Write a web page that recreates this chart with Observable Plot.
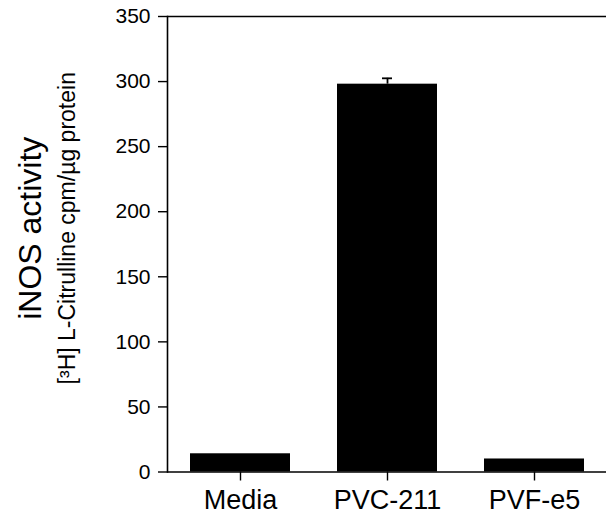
<!DOCTYPE html>
<html>
<head>
<meta charset="utf-8">
<script src="https://cdn.jsdelivr.net/npm/d3@7"></script>
<script src="https://cdn.jsdelivr.net/npm/@observablehq/plot@0.6"></script>
<style>
  html, body { margin: 0; padding: 0; background: #fff; }
  #chart svg { display: block; }
</style>
</head>
<body>
<div id="chart"></div>
<script>
const categories = ["Media", "PVC-211", "PVF-e5"];
const values = [14, 298, 10];
const errors = [0, 4.5, 0];
const yTicks = [0, 50, 100, 150, 200, 250, 300, 350];
const yTitle = "iNOS activity";
const ySubtitle = "[³H] L-Citrulline cpm/µg protein";

const data = categories.map((c, i) => ({cat: c, v: values[i], hi: values[i] + errors[i], err: errors[i]}));
const errData = data.filter(d => d.err > 0);

const W = 606, H = 518;
const font = "'Liberation Sans', Arial, Helvetica, sans-serif";

const chart = Plot.plot({
  width: W,
  height: H,
  marginLeft: 167,
  marginRight: 0,
  marginTop: 16,
  marginBottom: 46.5,
  style: {fontFamily: font, background: "#fff", color: "#000", overflow: "visible"},
  x: {domain: categories, paddingInner: 0.32, paddingOuter: 0.15, label: null},
  y: {domain: [0, 350], label: null},
  marks: [
    Plot.barY(data, {x: "cat", y: "v", fill: "#000"}),
    Plot.ruleX(errData, {x: "cat", y1: "v", y2: "hi", stroke: "#000", strokeWidth: 1.8}),
    Plot.tickY(errData, {x: "cat", y: "hi", stroke: "#000", strokeWidth: 1.8, insetLeft: 45, insetRight: 45}),
    Plot.ruleY([0], {stroke: "#000", strokeWidth: 1.6}),
    Plot.ruleY([350], {stroke: "#000", strokeWidth: 1.6}),
    Plot.frame({anchor: "left", stroke: "#000", strokeWidth: 1.6}),
    Plot.axisY({ticks: yTicks, tickSize: 9, tickPadding: 8, fontSize: 21, stroke: "#000", strokeWidth: 1.4}),
    Plot.axisX({tickSize: 9, tickPadding: 9, fontSize: 27, stroke: "#000", strokeWidth: 1.4}),
    Plot.text([yTitle], {text: d => d, frameAnchor: "left", textAnchor: "middle", rotate: -90, dx: -137, dy: -16, fontSize: 32, fill: "#000"}),
    Plot.text([ySubtitle], {text: d => d, frameAnchor: "left", textAnchor: "middle", rotate: -90, dx: -100, dy: -16, fontSize: 23, fill: "#000"})
  ]
});
document.getElementById("chart").appendChild(chart);
</script>
</body>
</html>
